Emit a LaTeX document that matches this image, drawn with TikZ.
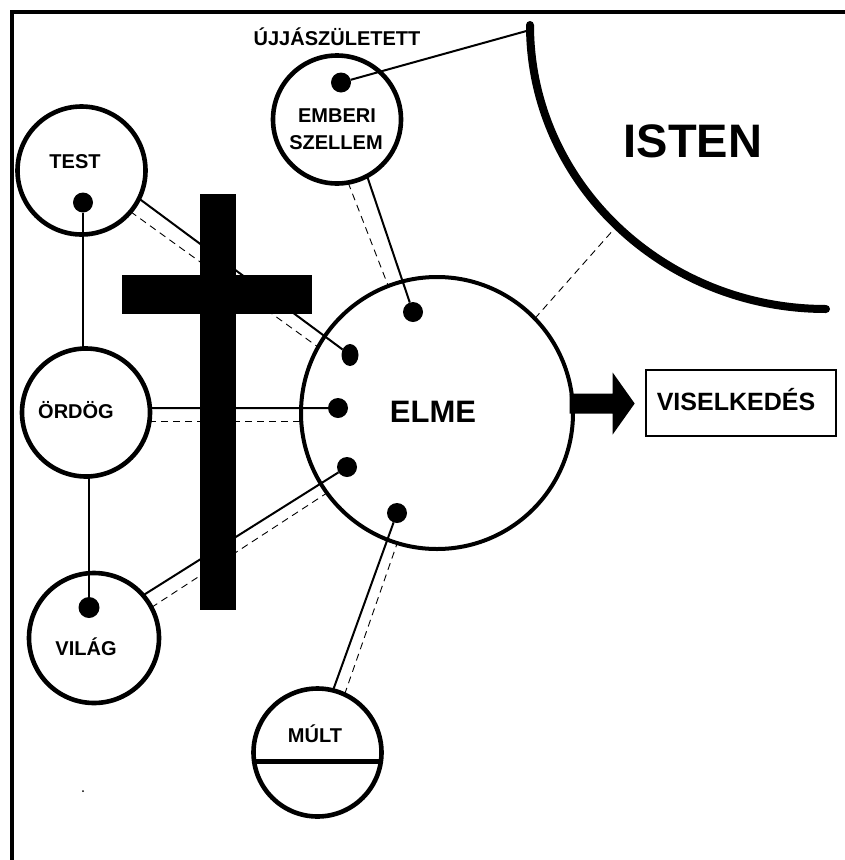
\documentclass[tikz,border=0pt]{standalone}
\usepackage{fontspec}
\setmainfont{Liberation Sans}
\usetikzlibrary{shapes.geometric}
\begin{document}
\begin{tikzpicture}[x=1pt,y=-1pt,
  bubble/.style={circle, draw, line width=4.6pt, fill=white, inner sep=0pt, outer sep=0pt, minimum size=128pt},
  lbl/.style={font=\bfseries\fontsize{20}{24}\selectfont, inner sep=0pt, anchor=base},
  blob/.style={circle, fill, inner sep=0pt, outer sep=0pt, minimum size=20pt},
  wire/.style={line width=2pt},
  ghost/.style={line width=0.9pt, dash pattern=on 7pt off 5pt},
]
\useasboundingbox (0,0) rectangle (845,860);
\fill[white] (0,0) rectangle (845,860);
\draw[line width=4.5pt] (12,860) -- (12,12) -- (845,12);

% circles
\node[bubble] (test) at (81.5,170.5) {};
\node[bubble] (emberi) at (337,119.5) {};
\node[bubble] (ordog) at (86,412.5) {};
\node[bubble, minimum size=130pt] (vilag) at (94,638) {};
\node[bubble] (mult) at (317.5,752.5) {};
\node[bubble, line width=4pt, minimum size=272pt] (elme) at (437,413) {};

% texts
\node[lbl] (tUJ) at (337,45) {ÚJJÁSZÜLETETT};
\node[lbl] (tTEST) at (75,168) {TEST};
\node[lbl] (tEMB) at (337,122) {EMBERI};
\node[lbl] (tSZ) at (336,149) {SZELLEM};
\node[lbl] (tORD) at (76,418) {ÖRDÖG};
\node[lbl] (tVIL) at (86,655) {VILÁG};
\node[lbl] (tMULT) at (315,742) {MÚLT};
\node[lbl, font=\bfseries\fontsize{31}{36}\selectfont] (tELME) at (433,422) {ELME};
\node[lbl, font=\bfseries\fontsize{47}{52}\selectfont] (tISTEN) at (693,157) {ISTEN};
\node[lbl, font=\bfseries\fontsize{25}{30}\selectfont] (tVIS) at (736,410) {VISELKEDÉS};

% dots
\node[blob] (dt) at (83,202.5) {};
\node[blob] (de) at (341,82.5) {};
\node[blob, minimum size=21pt] (dv) at (89,607.5) {};
\node[blob, ellipse, minimum width=17pt, minimum height=22pt] (d1) at (350,355) {};
\node[blob] (d2) at (338,408) {};
\node[blob] (d3) at (347,467) {};
\node[blob] (d4) at (413,312) {};
\node[blob] (d5) at (397,513) {};

% connectors
\draw[wire] (dt) -- (dt |- ordog.north);
\draw[wire] (dv |- ordog.south) -- (dv);
\draw[wire] (test.-26) -- (d1);
\draw[ghost] (test.-40) -- (elme.151);
\draw[wire] (ordog.4) -- (d2);
\draw[ghost] (ordog.-8) -- (ordog.-8 -| elme.west);
\draw[wire] (vilag.41) -- (d3);
\draw[ghost] (vilag.28) -- (elme.216);
\draw[wire] (mult.76) -- (d5);
\draw[ghost] (mult.65) -- (elme.-107);
\draw[wire] (emberi.-62) -- (d4);
\draw[ghost] (emberi.-80) -- (elme.111);
\draw[line width=4.5pt] (mult.-172) -- (mult.-8);

% cross
\fill (200,194) rectangle (236,610);
\fill (122,275) rectangle (312,314);

% God's arc
\coordinate (arctop) at (530,30);
\draw[line width=8pt, line cap=round] (530,25) .. controls (530,182) and (663,309) .. (826,309) coordinate[pos=0.5] (istenpt);
\draw[ghost] (elme.44) -- (istenpt);
\draw[wire] (de) -- (arctop);

% behaviour
\node[draw, line width=2pt, minimum width=190pt, minimum height=66pt, inner sep=0pt, outer sep=0pt] (visel) at (741,403) {};
\fill (elme.4) ++(-3,-10) -- ++(43,0) -- ++(0,-21) -- ++(22,31) -- ++(-22,31) -- ++(0,-21) -- ++(-43,0) -- cycle;

% speck
\fill (83,791) circle[radius=1pt];
\end{tikzpicture}
\end{document}
